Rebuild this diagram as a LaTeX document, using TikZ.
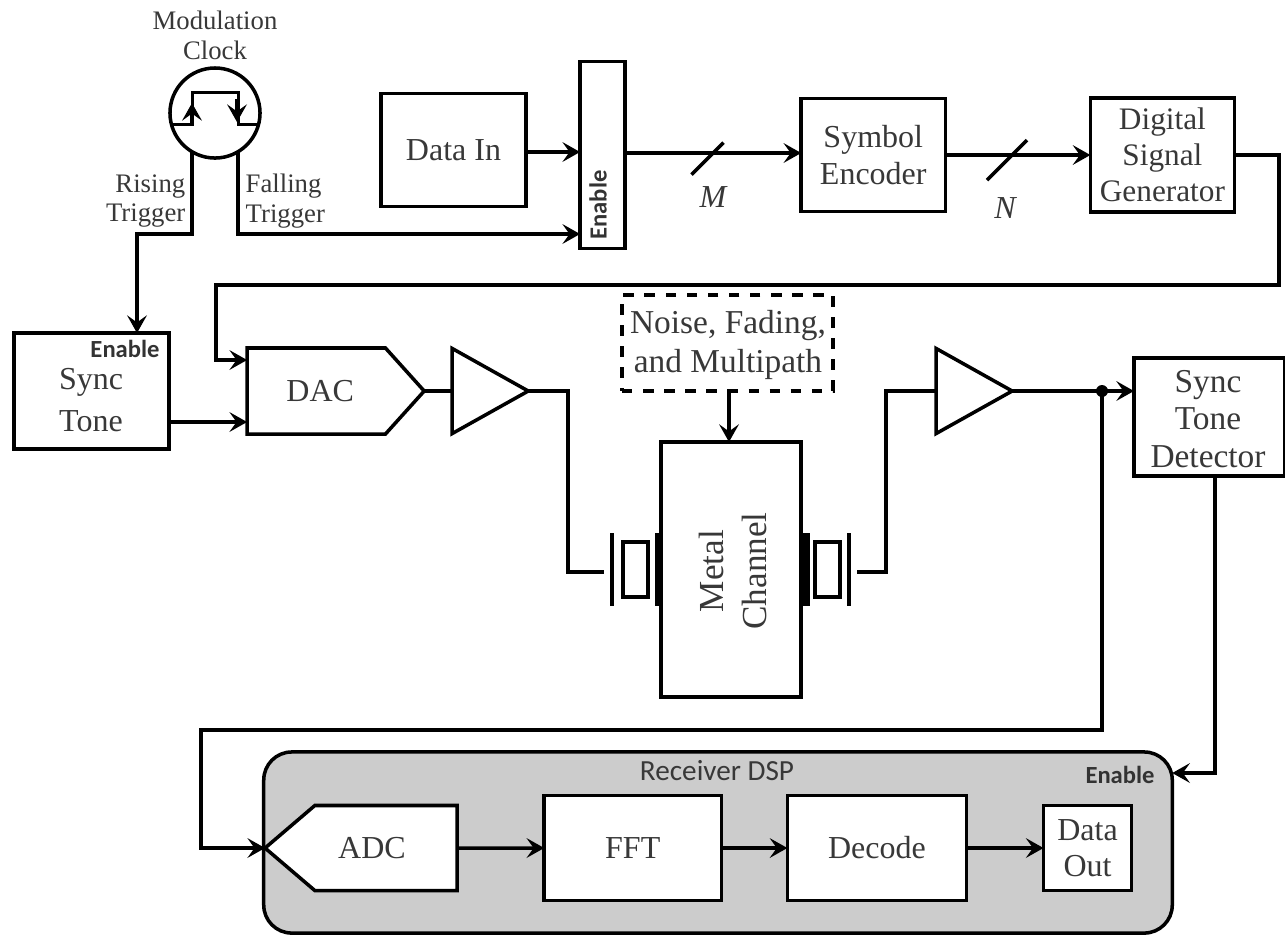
\documentclass[tikz,border=0pt]{standalone}
\usepackage{fontspec}
\setmainfont{Liberation Serif}
\newfontfamily\labelfont{Carlito}
\usepackage{xcolor}
\usetikzlibrary{shapes,shapes.geometric,shapes.symbols,arrows,arrows.meta,positioning,calc}
\definecolor{dspgray}{gray}{0.80}
\definecolor{inkgray}{gray}{0.22}

\begin{document}
\begin{tikzpicture}[
    x=0.01cm,y=-0.01cm,
    box/.style={rectangle,draw,line width=1pt,inner sep=0pt,outer sep=0pt,align=center,
                text=inkgray,font=\fontsize{9.1}{10.4}\selectfont},
    conv/.style={signal,draw,line width=1pt,inner sep=0pt,outer sep=0pt,signal from=nowhere,
                 text=inkgray,font=\fontsize{9.1}{10.4}\selectfont},
    amp/.style={isosceles triangle,draw,line width=1pt,inner sep=0pt,outer sep=0pt,
                isosceles triangle stretches,minimum width=0.85cm,minimum height=0.76cm},
    plate/.style={rectangle,fill=black,inner sep=0pt,outer sep=0pt,minimum height=0.73cm},
    boxtxt/.style={align=center,inner sep=0pt,text=inkgray},
    arr/.style={-{Stealth[length=5pt,width=5.6pt,inset=2pt]},line width=1pt},
    wire/.style={line width=1pt},
    label/.style={font=\fontsize{7.6}{8.5}\selectfont,text=inkgray,align=center,inner sep=0pt},
    enable/.style={font=\labelfont\bfseries\fontsize{7}{8}\selectfont,text=black!80,inner sep=0pt}
]
\useasboundingbox (0,0) rectangle (1285,935);

% Transmit row
\node[box,minimum width=1.45cm,minimum height=1.13cm] (datain) at (453.5,150) {Data In};
\node[box,minimum width=0.45cm,minimum height=1.87cm,right=0.54cm of datain,yshift=-0.05cm] (enbar) {};
\node[enable,rotate=90] (enbartxt) at (598,205) {Enable};
\node[box,minimum width=1.44cm,minimum height=1.13cm,right=1.76cm of enbar] (encoder) {Symbol\\Encoder};
\node[box,minimum width=1.44cm,minimum height=1.14cm,right=1.45cm of encoder,
      font=\fontsize{8.9}{10.2}\selectfont] (dsg) {Digital\\Signal\\Generator};

\draw[arr] (datain.east |- 0,152) -- (enbar.west |- 0,152);
\draw[arr] (enbar.east |- 0,153) -- (encoder.west |- 0,153);
\draw[arr] (encoder) -- (dsg);

% bus marks
\coordinate (mbus) at (707.5,158.5);
\coordinate (nbus) at (1007,160);
\draw[wire] ($(mbus)+(-16,16)$) -- ($(mbus)+(16,-16)$);
\draw[wire] ($(nbus)+(-20,20)$) -- ($(nbus)+(20,-20)$);
\node[boxtxt,font=\fontsize{9.1}{10.4}\itshape] (mlabel) at (713,197) {M};
\node[boxtxt,font=\fontsize{9.1}{10.4}\itshape] (nlabel) at (1005,208) {N};

% Modulation clock
\node[circle,draw,line width=1pt,minimum size=0.9cm,inner sep=0pt,outer sep=0pt] (clock) at (215,113) {};
\node[label,above=0.08cm of clock] (clocktxt) {Modulation\\Clock};
\draw[wire] (clock.195) -- ++(21,0) -- ++(0,-32) -- ++(46,0) -- ++(0,32) -- (clock.-15);
\draw[arr] ($(clock)+(-23,12)$) -- ($(clock)+(-23,-10)$);
\draw[arr] ($(clock)+(22,-14)$) -- ($(clock)+(22,9)$);
\node[label,align=right,anchor=east] (risetxt) at (186,201) {Rising\\Trigger};
\node[label,align=left,anchor=west] (falltxt) at (245,201) {Falling\\Trigger};

% Sync tone and DAC
\node[box,minimum width=1.55cm,minimum height=1.16cm] (sync) at (91.5,391) {};
\node[boxtxt,font=\fontsize{9.1}{12}\selectfont] (synctone) at (91,400) {Sync\\Tone};
\node[enable] (synctxt) at (125,349) {Enable};
\node[conv,signal to=east,signal pointer angle=96,minimum width=1.77cm,minimum height=0.86cm,
      right=0.78cm of sync] (dac) {\hspace{0.08cm}DAC};
\node[amp,right=0.28cm of dac] (amp1) {};

\coordinate (risebend) at (137,234);
\draw[arr] (clock.239) |- (risebend) -- (sync.north -| risebend);
\draw[arr] (clock.301) |- (enbar.west |- risebend);
\coordinate (dsgright) at (1279,155);
\coordinate (dsgdown) at (1279,285);
\coordinate (dacin) at (216,360);
\draw[arr] (dsg.east |- dsgright) -- (dsgright) -- (dsgdown) -| (dacin) -- (dacin -| dac.west);
\draw[arr] (sync.east |- 0,422) -- (dac.west |- 0,422);
\draw[wire] (dac.east) -- (amp1.west);

% Channel with transducers
\node[box,minimum width=1.40cm,minimum height=2.55cm] (channel) at (731,569.5) {};
\node[boxtxt,rotate=90,font=\fontsize{10}{12.2}\selectfont] (chantxt) at (733,571) {Metal\\Channel};
\node[box,dashed,minimum width=2.11cm,minimum height=0.96cm,
      above=0.51cm of channel,xshift=-0.035cm] (noise) {};
\node[boxtxt,font=\fontsize{9.5}{11.3}\selectfont] (noisetxt) at (728,345) {Noise, Fading,\\and Multipath};
\node[plate,minimum width=0.06cm,left=0cm of channel] (thickl) {};
\node[box,minimum width=0.25cm,minimum height=0.55cm,left=0.07cm of thickl] (pztl) {};
\node[plate,minimum width=0.04cm,left=0.09cm of pztl] (thinl) {};
\node[plate,minimum width=0.09cm,right=0cm of channel] (thickr) {};
\node[box,minimum width=0.25cm,minimum height=0.55cm,right=0.05cm of thickr] (pztr) {};
\node[plate,minimum width=0.04cm,right=0.07cm of pztr] (thinr) {};
\node[amp,right=1.35cm of channel.east |- amp1,anchor=west] (amp2) {};

\coordinate (wl) at (604,572);
\coordinate (wlbend) at (568,572);
\coordinate (wr) at (857,572);
\coordinate (wrbend) at (886,572);
\draw[wire] (amp1.east) -| (wlbend) -- (wl);
\draw[wire] (wr) -- (wrbend) |- (amp2.west);
\draw[arr] (noise.south -| 729,0) -- (channel.north -| 729,0);

% Detector
\node[box,minimum width=1.51cm,minimum height=1.18cm] (detector) at (1209.5,417) {};
\node[boxtxt,font=\fontsize{9.5}{10.6}\selectfont] (dettxt) at (1208,419) {Sync\\Tone\\Detector};
\coordinate (junc) at (1102,391);
\draw[arr] (amp2.east) -- (detector.west |- amp2.east);
\fill (junc) circle (0.06cm);

% Receiver DSP
\node[box,fill=dspgray,minimum width=9.08cm,minimum height=1.81cm,rounded corners=0.28cm] (dsp) at (718,842.5) {};
\node[anchor=base,inner sep=0pt,text=inkgray,font=\labelfont\fontsize{8.3}{10}\selectfont] (dsptxt) at (717,780) {Receiver DSP};
\node[enable] (dsptop) at (1120,775) {Enable};
\node[conv,fill=white,signal to=west,signal pointer angle=81,minimum width=1.92cm,minimum height=0.85cm] (adc) at (386,848) {ADC\hspace{0.28cm}\mbox{}};
\node[box,fill=white,minimum width=1.77cm,minimum height=1.05cm,right=0.87cm of adc] (fft) {FFT};
\node[box,fill=white,minimum width=1.79cm,minimum height=1.05cm,right=0.66cm of fft] (decode) {Decode};
\node[box,fill=white,minimum width=0.88cm,minimum height=0.85cm,right=0.77cm of decode] (dataout) {Data\\Out};

\draw[arr] (adc) -- (fft);
\draw[arr] (fft) -- (decode);
\draw[arr] (decode) -- (dataout);

\coordinate (loopa) at (1102,730);
\coordinate (loopb) at (201,730);
\draw[arr] (junc) -- (loopa) -- (loopb) |- (adc.west);
\coordinate (enin) at (1215,773);
\draw[arr] (detector.south -| enin) -- (enin) -- (enin -| dsp.east);
\end{tikzpicture}
\end{document}
